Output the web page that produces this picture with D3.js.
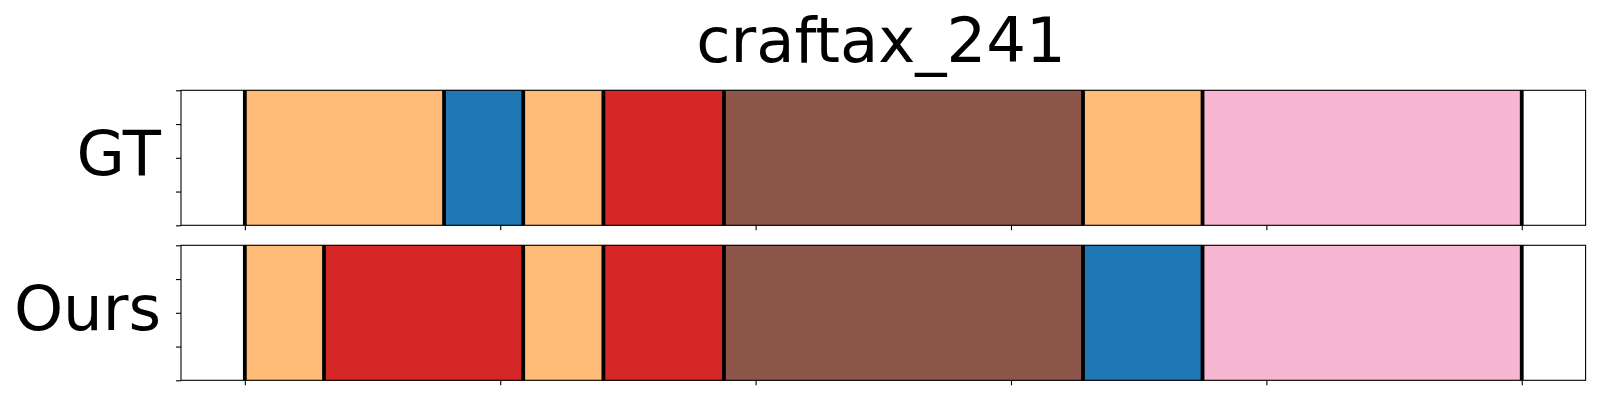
<!DOCTYPE html>
<html>
<head>
<meta charset="utf-8">
<script src="https://cdn.jsdelivr.net/npm/d3@7"></script>
<style>
  html, body { margin: 0; padding: 0; background: #fff; }
  svg { display: block; font-family: "DejaVu Sans", sans-serif; }
</style>
</head>
<body>
<svg id="chart" width="1600" height="400"></svg>
<script>
// ---- data ----
const title = "craftax_241";
const rowLabels = ["GT", "Ours"];
const gtBounds = [0, 39, 54.5, 70.2, 93.8, 164.1, 187.5, 250];
const gtClasses = ["orange", "blue", "orange", "red", "brown", "orange", "pink"];
const oursBounds = [0, 15.5, 54.5, 70.2, 93.8, 164.1, 187.5, 250];
const oursClasses = ["orange", "red", "orange", "red", "brown", "blue", "pink"];
const xTickValues = [0, 50, 100, 150, 200, 250];
const yTickValues = [0, 0.25, 0.5, 0.75, 1];
const classNames = ["blue", "orange", "red", "brown", "pink"];
const classColors = ["#1f77b4", "#ffbb78", "#d62728", "#8c564b", "#f7b6d2"];

// ---- layout ----
const svg = d3.select("#chart");
const left = 181, right = 1585.6;
const panelTops = [90.3, 245.3];
const panelH = 135;
const color = d3.scaleOrdinal().domain(classNames).range(classColors);
const x = d3.scaleLinear().domain([-12.5, 262.5]).range([left, right]);

svg.append("text")
  .attr("x", 881).attr("y", 62.3)
  .attr("text-anchor", "middle")
  .attr("font-size", 62.5)
  .attr("fill", "#000")
  .text(title);

const rows = [
  { label: rowLabels[0], bounds: gtBounds, classes: gtClasses },
  { label: rowLabels[1], bounds: oursBounds, classes: oursClasses }
];

rows.forEach((row, i) => {
  const top = panelTops[i];
  const y = d3.scaleLinear().domain([0, 1]).range([top + panelH, top]);
  const g = svg.append("g");

  const segs = row.classes.map((c, k) => ({ c, s: row.bounds[k], e: row.bounds[k + 1] }));
  g.selectAll("rect.seg").data(segs).enter().append("rect")
    .attr("class", "seg")
    .attr("x", d => x(d.s))
    .attr("width", d => x(d.e) - x(d.s))
    .attr("y", y(1))
    .attr("height", y(0) - y(1))
    .attr("fill", d => color(d.c))
    .attr("stroke", d => d3.color(color(d.c)).darker(0.3))
    .attr("stroke-width", 0.8);

  g.selectAll("line.bd").data(row.bounds).enter().append("line")
    .attr("class", "bd")
    .attr("x1", d => x(d)).attr("x2", d => x(d))
    .attr("y1", y(1)).attr("y2", y(0))
    .attr("stroke", "#000")
    .attr("stroke-width", 3.8);

  // frame
  g.append("rect")
    .attr("x", left).attr("y", top)
    .attr("width", right - left).attr("height", panelH)
    .attr("fill", "none").attr("stroke", "#000").attr("stroke-width", 1.1);

  const xa = g.append("g").attr("transform", `translate(0,${top + panelH})`)
    .call(d3.axisBottom(x).tickValues(xTickValues).tickFormat("").tickSize(5).tickSizeOuter(0));
  const ya = g.append("g").attr("transform", `translate(${left},0)`)
    .call(d3.axisLeft(y).tickValues(yTickValues).tickFormat("").tickSize(5).tickSizeOuter(0));
  [xa, ya].forEach(a => {
    a.select(".domain").remove();
    a.selectAll(".tick line").attr("stroke", "#000").attr("stroke-width", 1.1);
  });

  g.append("text")
    .attr("x", 161).attr("y", top + panelH / 2 + 16.8)
    .attr("text-anchor", "end")
    .attr("font-size", 62.5)
    .attr("fill", "#000")
    .text(row.label);
});
</script>
</body>
</html>
